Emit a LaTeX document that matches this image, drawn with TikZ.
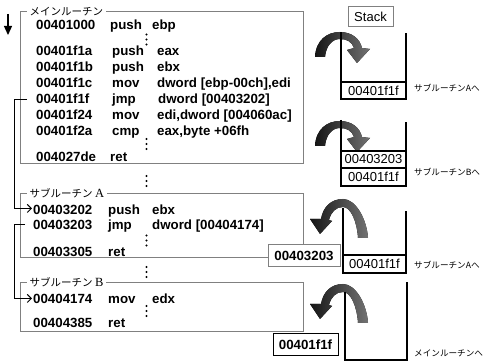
\documentclass[tikz,border=0pt]{standalone}
\usepackage{fontspec}
\setmainfont{Liberation Sans}
\newfontfamily\jpfont{Noto Sans CJK JP}
\newfontfamily\abfont{Liberation Serif}
\usetikzlibrary{arrows.meta}

\newcommand\codefont{\fontsize{13.3}{16}\selectfont\bfseries}
\newcommand\cellfont{\fontsize{13}{15}\selectfont}
\newcommand\titlefont{\jpfont\fontsize{10.5}{12}\selectfont}
\newcommand\labelfont{\jpfont\fontsize{8.6}{10}\selectfont}
% three dots of a vertical ellipsis
\newcommand\dotstack[2]{\foreach \dk in {0,5,10}{\fill (#1,#2+\dk) circle[radius=1.05pt];}}

\tikzset{
  code/.style={anchor=base west, inner sep=0pt, font=\codefont},
  frame/.style={draw=black!50, line width=1pt},
  ftitle/.style={anchor=west, fill=white, inner xsep=2.5pt, inner ysep=0pt, font=\titlefont},
  valbox/.style={fill=white, inner sep=0pt, minimum height=22pt, font=\codefont, line width=1pt},
  stackline/.style={draw=black, line width=1.4pt},
  cell/.style={inner sep=0pt, font=\cellfont},
  side/.style={anchor=west, inner sep=0pt, font=\labelfont},
  jump/.style={draw=black, line width=1pt, -{Straight Barb[length=4pt,width=8pt,line width=1pt]}},
  bandshade/.style={left color=black!92, right color=black!55},
}

\begin{document}
\begin{tikzpicture}[x=1pt,y=-1pt]
\useasboundingbox (0,0) rectangle (504,363);

% ---------- program flow direction ----------
\draw[line width=1.3pt, -{Triangle[length=9pt,width=8pt]}] (8,14) -- (8,35);

% ---------- main routine ----------
\draw[frame] (20,12) rectangle (303,164);
\node[ftitle] (tmain) at (27,11.5) {メインルーチン};
\node[code] (m0a) at (36,30) {00401000}; \node[code] (m0o) at (110,30) {push}; \node[code] (m0d) at (152,30) {ebp};
\dotstack{146.5}{34.5}
\node[code] (m1a) at (36,56) {00401f1a}; \node[code] (m1o) at (112,56) {push}; \node[code] (m1d) at (157,56) {eax};
\node[code] (m2a) at (36,72) {00401f1b}; \node[code] (m2o) at (112,72) {push}; \node[code] (m2d) at (157,72) {ebx};
\node[code] (m3a) at (36,88) {00401f1c}; \node[code] (m3o) at (112,88) {mov}; \node[code] (m3d) at (157,88) {dword [ebp-00ch],edi};
\node[code] (m4a) at (36,104) {00401f1f}; \node[code] (m4o) at (112,104) {jmp}; \node[code] (m4d) at (158,104) {dword [00403202]};
\node[code] (m5a) at (36,120) {00401f24}; \node[code] (m5o) at (112,120) {mov}; \node[code] (m5d) at (157,120) {edi,dword [004060ac]};
\node[code] (m6a) at (36,136) {00401f2a}; \node[code] (m6o) at (112,136) {cmp}; \node[code] (m6d) at (157,136) {eax,byte +06fh};
\dotstack{146.5}{139}
\node[code] (m7a) at (36,162) {004027de}; \node[code] (m7o) at (110,162) {ret};

\dotstack{146.5}{176}

% ---------- subroutine A ----------
\draw[frame] (20,194) rectangle (303,258);
\node[ftitle] (tsubA) at (27,193.5) {サブルーチン {\abfont\fontsize{12.5}{14}\selectfont A}};
\node[code] (a0a) at (33,215) {00403202}; \node[code] (a0o) at (108,215) {push}; \node[code] (a0d) at (152,215) {ebx};
\node[code] (a1a) at (33,229.5) {00403203}; \node[code] (a1o) at (108,229.5) {jmp}; \node[code] (a1d) at (152,229.5) {dword [00404174]};
\dotstack{146.5}{235.5}
\node[code] (a2a) at (33,257) {00403305}; \node[code] (a2o) at (108,257) {ret};
\node[valbox, draw=black!50, minimum width=72pt] (retA) at (304,256) {00403203};

\dotstack{146.5}{267}

% ---------- subroutine B ----------
\draw[frame] (20,283) rectangle (303,332);
\node[ftitle] (tsubB) at (27,282.5) {サブルーチン {\abfont\fontsize{12.5}{14}\selectfont B}};
\node[code] (b0a) at (33,304) {00404174}; \node[code] (b0o) at (108,304) {mov}; \node[code] (b0d) at (152,304) {edx};
\dotstack{146.5}{306}
\node[code] (b1a) at (33,328) {00404385}; \node[code] (b1o) at (108,328) {ret};
\node[valbox, draw=black, minimum width=65pt] (retM) at (305.5,344.5) {00401f1f};

% ---------- jumps ----------
\draw[jump] ([xshift=-9pt]m4a.west) -- ++(-13,0) |- ([xshift=-1pt,yshift=2pt]a0a.west);
\draw[jump] ([xshift=-8pt]a1a.west) -- ++(-11,0) |- ([xshift=-1pt,yshift=1pt]b0a.west);

% ---------- stack ----------
\node[draw=black!50, line width=1pt, minimum width=45pt, minimum height=20pt, inner sep=0pt, font=\cellfont] (stk) at (370.5,17) {Stack};

% push of the return address
\fill[bandshade] (315,57) .. controls (316,40) and (327,32) .. (340,32)
  .. controls (352,32) and (360,39) .. (362,48) -- (370,49) -- (357,63) -- (347,50) -- (354,48)
  .. controls (352,42) and (347,39) .. (340,39)
  .. controls (332,39) and (326,46) .. (325,57) -- cycle;
\draw[stackline] (341,32) -- (341,99) -- (406,99) -- (406,33);
\draw[stackline] (341,82) -- (406,82);
\node[cell] (s1c0) at (373.5,90.5) {00401f1f};
\node[side] (s1l) at (414,88) {サブルーチンAへ};

\begin{scope}[shift={(0,89)}]
\fill[bandshade] (315,57) .. controls (316,40) and (327,32) .. (340,32)
  .. controls (352,32) and (360,39) .. (362,48) -- (370,49) -- (357,63) -- (347,50) -- (354,48)
  .. controls (352,42) and (347,39) .. (340,39)
  .. controls (332,39) and (326,46) .. (325,57) -- cycle;
\end{scope}
\draw[stackline] (341,120) -- (341,186) -- (406,186) -- (406,122);
\draw[stackline] (341,151) -- (406,151);
\draw[stackline] (341,168) -- (406,168);
\node[cell] (s2c0) at (373.5,159.5) {00403203};
\node[cell] (s2c1) at (373.5,177) {00401f1f};
\node[side] (s2l) at (414,172) {サブルーチンBへ};

% pop of the return address
\fill[bandshade] (368,238) .. controls (367,220) and (356,199) .. (343,199)
  .. controls (331,199) and (323,207) .. (321,219) -- (310,219) -- (320,234) -- (332,221) -- (329,220)
  .. controls (331,212) and (336,207) .. (343,207)
  .. controls (351,207) and (357,222) .. (358,238) -- cycle;
\draw[stackline] (343,208) -- (343,273) -- (406,273) -- (406,211);
\draw[stackline] (343,255) -- (406,255);
\node[cell] (s3c0) at (374.5,264) {00401f1f};
\node[side] (s3l) at (414,265) {サブルーチンAへ};

\begin{scope}[shift={(0,85)}]
\fill[bandshade] (368,238) .. controls (367,220) and (356,199) .. (343,199)
  .. controls (331,199) and (323,207) .. (321,219) -- (310,219) -- (320,234) -- (332,221) -- (329,220)
  .. controls (331,212) and (336,207) .. (343,207)
  .. controls (351,207) and (357,222) .. (358,238) -- cycle;
\end{scope}
\draw[stackline] (345,292) -- (345,360) -- (407,360) -- (407,282);
\node[side] (s4l) at (414,353) {メインルーチンへ};

\end{tikzpicture}
\end{document}
